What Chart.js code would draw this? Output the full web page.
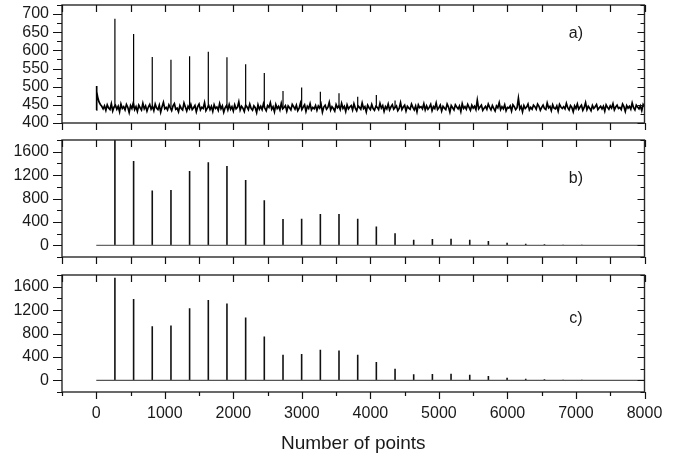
<!DOCTYPE html>
<html><head><meta charset="utf-8">
<script src="https://cdn.jsdelivr.net/npm/chart.js@4.4.0/dist/chart.umd.min.js"></script>
<style>
html,body{margin:0;padding:0;background:#fff;}
#wrap{position:relative;width:681px;height:458px;overflow:hidden;background:#fff;}
canvas{position:absolute;left:0;}
</style></head><body>
<div id="wrap">
<canvas id="ca" width="681" height="131" style="top:0px"></canvas>
<canvas id="cb" width="681" height="135" style="top:131px"></canvas>
<canvas id="cc" width="681" height="192" style="top:266px"></canvas>
</div>
<script>
// ---- data ----
const peakPositions = [272, 545, 817, 1090, 1362, 1635, 1907, 2180, 2452, 2725, 2997, 3270, 3542, 3815, 4087, 4360, 4632, 4905, 5177, 5450, 5722, 5995, 6267, 6540, 6812, 7085, 7357, 7630, 7902];
const peaksA = [687, 645, 582, 574, 584, 596, 581, 562, 538, 488, 498, 486, 482, 472, 477, 462];
const baseLevelA = 442;
const peaksB = [1810, 1441, 936, 947, 1271, 1418, 1356, 1118, 772, 448, 454, 533, 533, 454, 323, 204, 96, 108, 113, 96, 74, 45, 28, 17, 10, 8, 6, 5, 4];
const peaksC = [1753, 1390, 925, 936, 1231, 1373, 1311, 1072, 749, 437, 448, 522, 511, 437, 312, 199, 102, 108, 113, 96, 74, 45, 28, 17, 10, 8, 6, 5, 4];
const onsetA = [{x: 0, y: 436}, {x: 3, y: 502}, {x: 9, y: 486}];
const noiseAStart = 20, noiseAStep = 20;
const noiseA = [
472,458,451,446,439,447,435,450,441,437,453,433,444,449,438,446,431,452,440,445,
436,451,443,429,448,440,455,437,445,432,449,442,436,454,439,447,433,444,451,438,
446,434,452,441,437,449,430,445,457,439,443,436,450,442,434,447,453,438,441,431,
448,440,436,455,444,433,446,439,451,437,442,448,431,445,452,436,443,440,456,434,
441,449,437,446,432,450,440,444,435,453,439,447,430,442,448,436,451,438,445,433,
450,439,443,458,436,446,441,432,449,444,437,452,440,435,447,442,429,450,438,446,
437,453,441,434,448,443,456,438,445,431,451,440,446,436,454,439,443,448,433,447,
442,436,451,445,438,449,434,441,455,437,444,450,432,446,440,453,436,443,439,448,
435,447,441,452,430,444,449,438,443,457,436,445,440,433,451,442,447,437,454,440,
446,432,450,439,444,448,436,453,441,434,447,443,438,455,440,445,431,449,442,437,
451,440,435,446,443,437,454,441,448,432,445,439,452,436,444,450,438,443,447,434,
440,456,437,444,449,433,446,441,438,452,443,436,447,431,450,442,445,439,453,436,
447,438,443,451,434,445,440,455,437,442,449,433,446,441,437,452,444,430,448,442,
436,450,444,439,447,432,453,440,445,438,451,443,435,449,441,446,437,463,439,444,
449,435,441,446,438,452,443,436,448,440,433,447,442,456,437,445,439,450,434,443,
441,447,433,450,445,437,442,468,439,446,431,448,440,444,452,436,443,438,449,445,
438,452,446,435,443,449,440,437,455,442,446,434,450,441,439,447,433,451,444,440,
445,439,454,442,436,448,443,431,447,440,452,438,444,449,435,443,456,437,446,441,
434,448,440,445,451,437,442,446,439,446,433,450,443,438,447,441,453,436,444,449,
440,443,437,452,445,432,448,441,446,438,455,442,436,449,444,439,447,434,451,445
];
const baselineBC = [{x: 0, y: 0}, {x: 8000, y: 0}];
const xTickLabels = [0, 1000, 2000, 3000, 4000, 5000, 6000, 7000, 8000];
const yTicksA = [400, 450, 500, 550, 600, 650, 700];
const yTicksBC = [0, 400, 800, 1200, 1600];
const panelLabels = ['a)', 'b)', 'c)'];

// ---- build tables ----
function noiseSeriesA() {
  const pts = onsetA.slice();
  noiseA.forEach((v, i) => pts.push({x: noiseAStart + i * noiseAStep, y: v}));
  return pts;
}
function peakSticks(heights, base) {
  const pts = [];
  heights.forEach((h, i) => {
    const p = peakPositions[i];
    pts.push({x: p, y: base}, {x: p, y: h}, {x: p, y: null});
  });
  return pts;
}

const FONT = '"Liberation Sans", Arial, sans-serif';
const framePlugin = {
  id: 'frame',
  afterDatasetsDraw(chart, args, o) {
    const {ctx, chartArea: a, scales: {x, y}} = chart;
    ctx.save();
    ctx.strokeStyle = '#2a2a2a';
    ctx.lineWidth = 1.4;
    ctx.strokeRect(a.left, a.top, a.right - a.left, a.bottom - a.top);
    ctx.strokeStyle = '#111';
    ctx.lineWidth = 1.2;
    ctx.beginPath();
    for (let v = -500; v <= 8000; v += 500) {
      const px = Math.round(x.getPixelForValue(v)) + 0.5;
      const major = v % 1000 === 0;
      ctx.moveTo(px, a.top); ctx.lineTo(px, a.top + 7);
      const bl = (o.shortMinor && !major) ? 4 : 7;
      ctx.moveTo(px, a.bottom); ctx.lineTo(px, a.bottom + bl);
    }
    for (let v = o.yFrom; v <= y.max + 0.01; v += o.yMinor) {
      const py = Math.round(y.getPixelForValue(v)) + 0.5;
      const major = ((v - o.yFrom0) % o.yMajor) === 0;
      ctx.moveTo(a.left, py); ctx.lineTo(a.left - (major ? 9 : 5), py);
      ctx.moveTo(a.right, py); ctx.lineTo(a.right - (major ? 7 : 4), py);
    }
    ctx.stroke();
    ctx.fillStyle = '#1a1a1a';
    ctx.font = '16px ' + FONT;
    ctx.textAlign = 'center';
    ctx.textBaseline = 'middle';
    ctx.fillText(o.label, x.getPixelForValue(o.labelX), y.getPixelForValue(o.labelY));
    ctx.restore();
  }
};

function makePanel(id, datasets, yMin, yMax, yTicks, padTop, xHeight, showX, frameOpts) {
  return new Chart(document.getElementById(id), {
    type: 'line',
    data: {datasets},
    plugins: [framePlugin],
    options: {
      responsive: false, animation: false, devicePixelRatio: 1,
      layout: {padding: {top: padTop, right: 36.5, left: 0, bottom: 0}},
      elements: {point: {radius: 0}, line: {tension: 0}},
      plugins: {legend: {display: false}, tooltip: {enabled: false}, frame: frameOpts},
      scales: {
        x: {
          type: 'linear', min: -500, max: 8000,
          grid: {display: false, drawTicks: true, tickLength: 12}, border: {display: false},
          afterBuildTicks: s => { s.ticks = xTickLabels.map(v => ({value: v})); },
          afterFit: s => { s.height = xHeight; s.paddingLeft = 0; s.paddingRight = 0; },
          ticks: {display: showX, padding: 0, maxRotation: 0, autoSkip: false,
                  color: '#1a1a1a', font: {family: FONT, size: 16}, callback: v => String(v)},
          title: {display: showX, text: 'Number of points', color: '#1a1a1a',
                  font: {family: FONT, size: 19}, padding: {top: 0, bottom: 3}}
        },
        y: {
          min: yMin, max: yMax,
          grid: {display: false, drawTicks: true, tickLength: 13}, border: {display: false},
          afterBuildTicks: s => { s.ticks = yTicks.map(v => ({value: v})); },
          afterFit: s => { s.width = 62; s.paddingTop = 0; s.paddingBottom = 0; },
          ticks: {padding: 0, autoSkip: false, color: '#1a1a1a', font: {family: FONT, size: 16}, callback: v => String(v)}
        }
      }
    }
  });
}

makePanel('ca', [
  {data: noiseSeriesA(), borderColor: '#000', borderWidth: 1.7, pointRadius: 0},
  {data: peakSticks(peaksA, baseLevelA), borderColor: '#000', borderWidth: 1.2, pointRadius: 0, spanGaps: false}
], 400, 725, yTicksA, 5, 8, false,
  {yFrom: 400, yFrom0: 400, yMinor: 25, yMajor: 50, shortMinor: false, label: panelLabels[0], labelX: 7000, labelY: 645});

makePanel('cb', [
  {data: baselineBC, borderColor: '#666', borderWidth: 1.2, pointRadius: 0},
  {data: peakSticks(peaksB, 0), borderColor: '#111', borderWidth: 1.6, pointRadius: 0, spanGaps: false}
], -200, 1800, yTicksBC, 9, 9, false,
  {yFrom: -200, yFrom0: 0, yMinor: 200, yMajor: 400, shortMinor: false, label: panelLabels[1], labelX: 7000, labelY: 1144});

makePanel('cc', [
  {data: baselineBC, borderColor: '#555', borderWidth: 1.3, pointRadius: 0},
  {data: peakSticks(peaksC, 0), borderColor: '#111', borderWidth: 1.6, pointRadius: 0, spanGaps: false}
], -200, 1800, yTicksBC, 9, 66, true,
  {yFrom: -200, yFrom0: 0, yMinor: 200, yMajor: 400, shortMinor: true, label: panelLabels[2], labelX: 7000, labelY: 1059});
</script>
</body></html>
